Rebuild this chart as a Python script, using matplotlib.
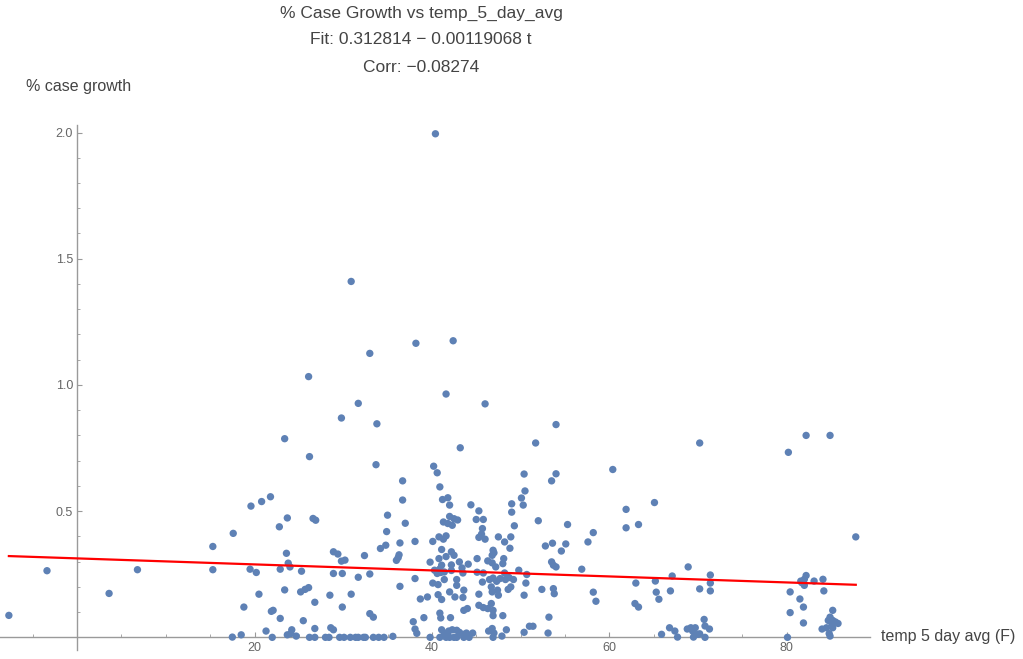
import matplotlib
matplotlib.use("Agg")
import matplotlib.pyplot as plt
import numpy as np

plt.rcParams['font.family'] = ['Liberation Sans', 'DejaVu Sans']

# temp 5 day avg (F), % case growth
temp = [
    -7.7, -3.4, 3.6, 6.8, 15.3, 15.3,
    31.7, 29.8, 23.4, 26.2, 21.8, 20.8, 19.6, 23.7, 26.6, 26.9, 22.8, 17.6, 23.6, 28.9,
    29.4, 23.8, 24.0, 29.8, 30.2, 19.5, 20.2, 22.9, 25.3, 28.9, 29.9, 31.7, 23.4, 25.2,
    25.7, 26.1, 20.5, 28.5, 30.9, 26.8, 29.9, 18.8, 21.9, 22.1, 22.9, 25.5, 21.3, 26.8,
    28.6, 28.9, 24.2, 24.1, 23.7, 24.7, 17.5, 18.5, 22.0, 26.2, 26.8, 28.0, 28.4, 29.6,
    30.1, 30.8, 31.4, 31.7,
    41.6, 33.8, 43.2, 33.7, 40.2, 40.6, 36.7, 40.9, 36.7, 41.2, 41.8, 42.0, 35.0, 42.0,
    42.9, 41.3, 41.8, 42.3, 37.0, 34.9, 40.8, 41.3, 41.6, 38.1, 40.1, 36.4, 34.8, 34.2,
    41.1, 42.2, 42.5, 36.3, 36.2, 36.0, 32.4, 40.8, 41.6, 39.8, 41.1, 42.2, 40.9, 40.3,
    40.6, 41.0, 41.4, 42.2, 33.0, 38.1, 41.4, 42.8, 40.1, 40.7, 36.4, 42.8, 42.0, 40.7,
    41.1, 42.6, 39.5, 38.7, 33.0, 40.9, 41.0, 42.1, 39.1, 33.4, 37.9, 38.1, 38.3, 41.1,
    41.4, 41.9, 42.3, 42.8, 41.6, 42.0, 42.5, 42.8, 39.8, 40.9, 35.6, 32.3, 32.5, 33.4,
    34.0, 34.6,
    46.0, 54.0, 51.7, 50.4, 54.0, 53.5, 50.5, 50.1, 50.3, 44.4, 45.3, 49.0, 49.0, 45.0,
    45.8, 42.5, 52.0, 49.3, 45.7, 45.6, 45.3, 46.0, 47.5, 48.9, 48.2, 48.8, 52.8, 53.6,
    46.9, 47.0, 46.8, 45.1, 48.1, 48.0, 43.1, 44.1, 46.3, 46.8, 47.2, 53.5, 53.7, 45.1,
    45.8, 49.8, 50.7, 50.6, 48.2, 48.7, 48.3, 43.4, 43.5, 45.7, 46.5, 46.9, 47.3, 47.7,
    49.2, 46.7, 47.4, 46.8, 48.9, 48.6, 52.4, 53.7, 53.8, 43.6, 43.5, 44.0, 43.6, 45.3,
    47.5, 50.4, 45.3, 45.8, 46.3, 46.7, 46.9, 46.9, 48.0, 53.2, 43.1, 43.5, 43.9, 44.6,
    43.6, 44.2, 46.4, 46.8, 47.0, 46.9, 47.9, 48.4, 50.4, 51.0, 51.4, 53.1,
    70.2, 60.4, 65.1, 61.9, 61.9, 63.3, 55.3, 58.2, 57.6, 55.1, 54.6, 54.0, 56.9, 68.9,
    67.1, 63.0, 65.2, 58.2, 58.5, 65.3, 65.6, 66.9, 70.2, 62.9, 63.3, 65.9, 66.8, 67.4,
    67.7, 68.8, 69.2, 69.7, 69.4, 69.5, 70.0,
    80.2, 82.2, 84.9, 87.8, 71.4, 71.4, 71.4, 70.7, 70.8, 71.3, 70.8, 70.2, 80.1, 80.4,
    80.4, 81.5, 81.9, 81.9, 81.6, 82.0, 82.2, 82.0, 81.7, 83.1, 84.1, 84.2, 85.2, 84.0,
    84.5, 84.7, 84.9, 85.1, 85.2, 85.5, 85.8, 84.8, 85.2, 84.9,
    40.4, 30.9, 38.2, 42.4, 33.0, 26.1,
]
growth = [
    0.087, 0.264, 0.174, 0.268, 0.36, 0.268,
    0.927, 0.869, 0.787, 0.716, 0.557, 0.538, 0.52, 0.473, 0.471, 0.464, 0.438, 0.412, 0.333, 0.339,
    0.33, 0.294, 0.279, 0.302, 0.306, 0.27, 0.257, 0.27, 0.262, 0.253, 0.253, 0.238, 0.188, 0.18,
    0.19, 0.197, 0.171, 0.167, 0.171, 0.139, 0.12, 0.12, 0.103, 0.107, 0.075, 0.066, 0.025, 0.035,
    0.038, 0.03, 0.03, 0.015, 0.01, 0.005, 0.001, 0.01, 0.0, 0.0, 0.0, 0.0, 0.0, 0.0,
    0.0, 0.0, 0.0, 0.0,
    0.964, 0.846, 0.751, 0.684, 0.678, 0.652, 0.62, 0.596, 0.544, 0.546, 0.553, 0.524, 0.484, 0.479,
    0.465, 0.457, 0.451, 0.444, 0.452, 0.419, 0.398, 0.389, 0.402, 0.38, 0.38, 0.374, 0.365, 0.352,
    0.348, 0.339, 0.325, 0.327, 0.316, 0.305, 0.324, 0.312, 0.32, 0.298, 0.286, 0.287, 0.271, 0.266,
    0.253, 0.257, 0.259, 0.265, 0.251, 0.233, 0.229, 0.229, 0.215, 0.209, 0.202, 0.206, 0.18, 0.169,
    0.15, 0.16, 0.16, 0.152, 0.094, 0.096, 0.077, 0.078, 0.078, 0.08, 0.062, 0.033, 0.016, 0.03,
    0.017, 0.025, 0.03, 0.028, 0.0, 0.0, 0.0, 0.0, 0.0, 0.0, 0.004, 0.0, 0.0, 0.0,
    0.0, 0.0,
    0.925, 0.843, 0.77, 0.647, 0.648, 0.62, 0.58, 0.552, 0.524, 0.525, 0.501, 0.529, 0.496, 0.467,
    0.467, 0.47, 0.462, 0.442, 0.431, 0.409, 0.396, 0.389, 0.398, 0.398, 0.378, 0.353, 0.362, 0.373,
    0.345, 0.335, 0.325, 0.312, 0.312, 0.292, 0.299, 0.29, 0.303, 0.295, 0.279, 0.299, 0.286, 0.258,
    0.255, 0.266, 0.249, 0.215, 0.255, 0.237, 0.229, 0.275, 0.255, 0.219, 0.229, 0.235, 0.222, 0.233,
    0.229, 0.2, 0.187, 0.18, 0.2, 0.19, 0.19, 0.193, 0.173, 0.187, 0.158, 0.114, 0.107, 0.171,
    0.167, 0.167, 0.127, 0.118, 0.114, 0.134, 0.107, 0.086, 0.086, 0.08, 0.02, 0.012, 0.017, 0.017,
    0.0, 0.0, 0.025, 0.035, 0.017, 0.0, 0.005, 0.03, 0.02, 0.044, 0.044, 0.017,
    0.77, 0.665, 0.534, 0.507, 0.434, 0.447, 0.447, 0.415, 0.378, 0.37, 0.342, 0.279, 0.27, 0.279,
    0.243, 0.215, 0.223, 0.179, 0.143, 0.179, 0.151, 0.184, 0.192, 0.134, 0.12, 0.012, 0.038, 0.025,
    0.001, 0.033, 0.038, 0.038, 0.025, 0.001, 0.012,
    0.733, 0.8, 0.8, 0.398, 0.247, 0.215, 0.184, 0.071, 0.045, 0.033, 0.0, 0.014, 0.0, 0.18,
    0.098, 0.152, 0.12, 0.057, 0.223, 0.23, 0.245, 0.206, 0.217, 0.223, 0.23, 0.184, 0.107, 0.033,
    0.038, 0.067, 0.08, 0.055, 0.067, 0.061, 0.055, 0.015, 0.038, 0.005,
    1.995, 1.41, 1.165, 1.175, 1.125, 1.033,
]

# fit from the chart title
fit_a = 0.312814
fit_b = -0.00119068

temp = np.array(temp)
growth = np.array(growth)

fig = plt.figure(figsize=(10.23, 6.59), dpi=100)
ax = fig.add_axes([0.0, 0.0137, 0.8504, 0.7967])

ax.scatter(temp, growth, s=28, color='#5E81B5', edgecolors='none', zorder=3)

xl = np.array([temp.min(), temp.max()])
ax.plot(xl, fit_a + fit_b * xl, color='red', lw=1.6, zorder=4)

ax.set_xlim(-8.7, 89.4)
ax.set_ylim(-0.05, 2.03)

for s in ['top', 'right']:
    ax.spines[s].set_visible(False)
ax.spines['left'].set_position(('data', 0))
ax.spines['bottom'].set_position(('data', 0))
for s in ['left', 'bottom']:
    ax.spines[s].set_color('#9a9a9a')
    ax.spines[s].set_linewidth(1.0)

ax.set_xticks([20, 40, 60, 80])
ax.set_xticks([v for v in range(-5, 90, 5) if v % 20 != 0], minor=True)
ax.set_yticks([0.5, 1.0, 1.5, 2.0])
ax.set_yticks([v / 10 for v in range(1, 21) if v % 5 != 0], minor=True)
ax.set_yticklabels(['0.5', '1.0', '1.5', '2.0'])

ax.tick_params(which='both', direction='in', color='#9a9a9a', labelcolor='#666666', labelsize=9)
ax.tick_params(which='major', length=3.5, width=0.8, pad=3)
ax.tick_params(which='minor', length=2, width=0.6)

fig.text(26 / 1023, 1 - 86 / 659, '% case growth', fontsize=11.5, color='#444444',
         ha='left', va='center')
fig.text(881 / 1023, 1 - 636 / 659, 'temp 5 day avg (F)', fontsize=11.5, color='#444444',
         ha='left', va='center')

title_lines = ['% Case Growth vs temp_5_day_avg',
               'Fit: 0.312814 \u2212 0.00119068 t',
               'Corr: \u22120.08274']
for i, t in enumerate(title_lines):
    fig.text(421 / 1023, 1 - (13 + 27 * i) / 659, t, fontsize=12.5, color='#444444',
             ha='center', va='center')

fig.savefig('out.png', dpi=100)
